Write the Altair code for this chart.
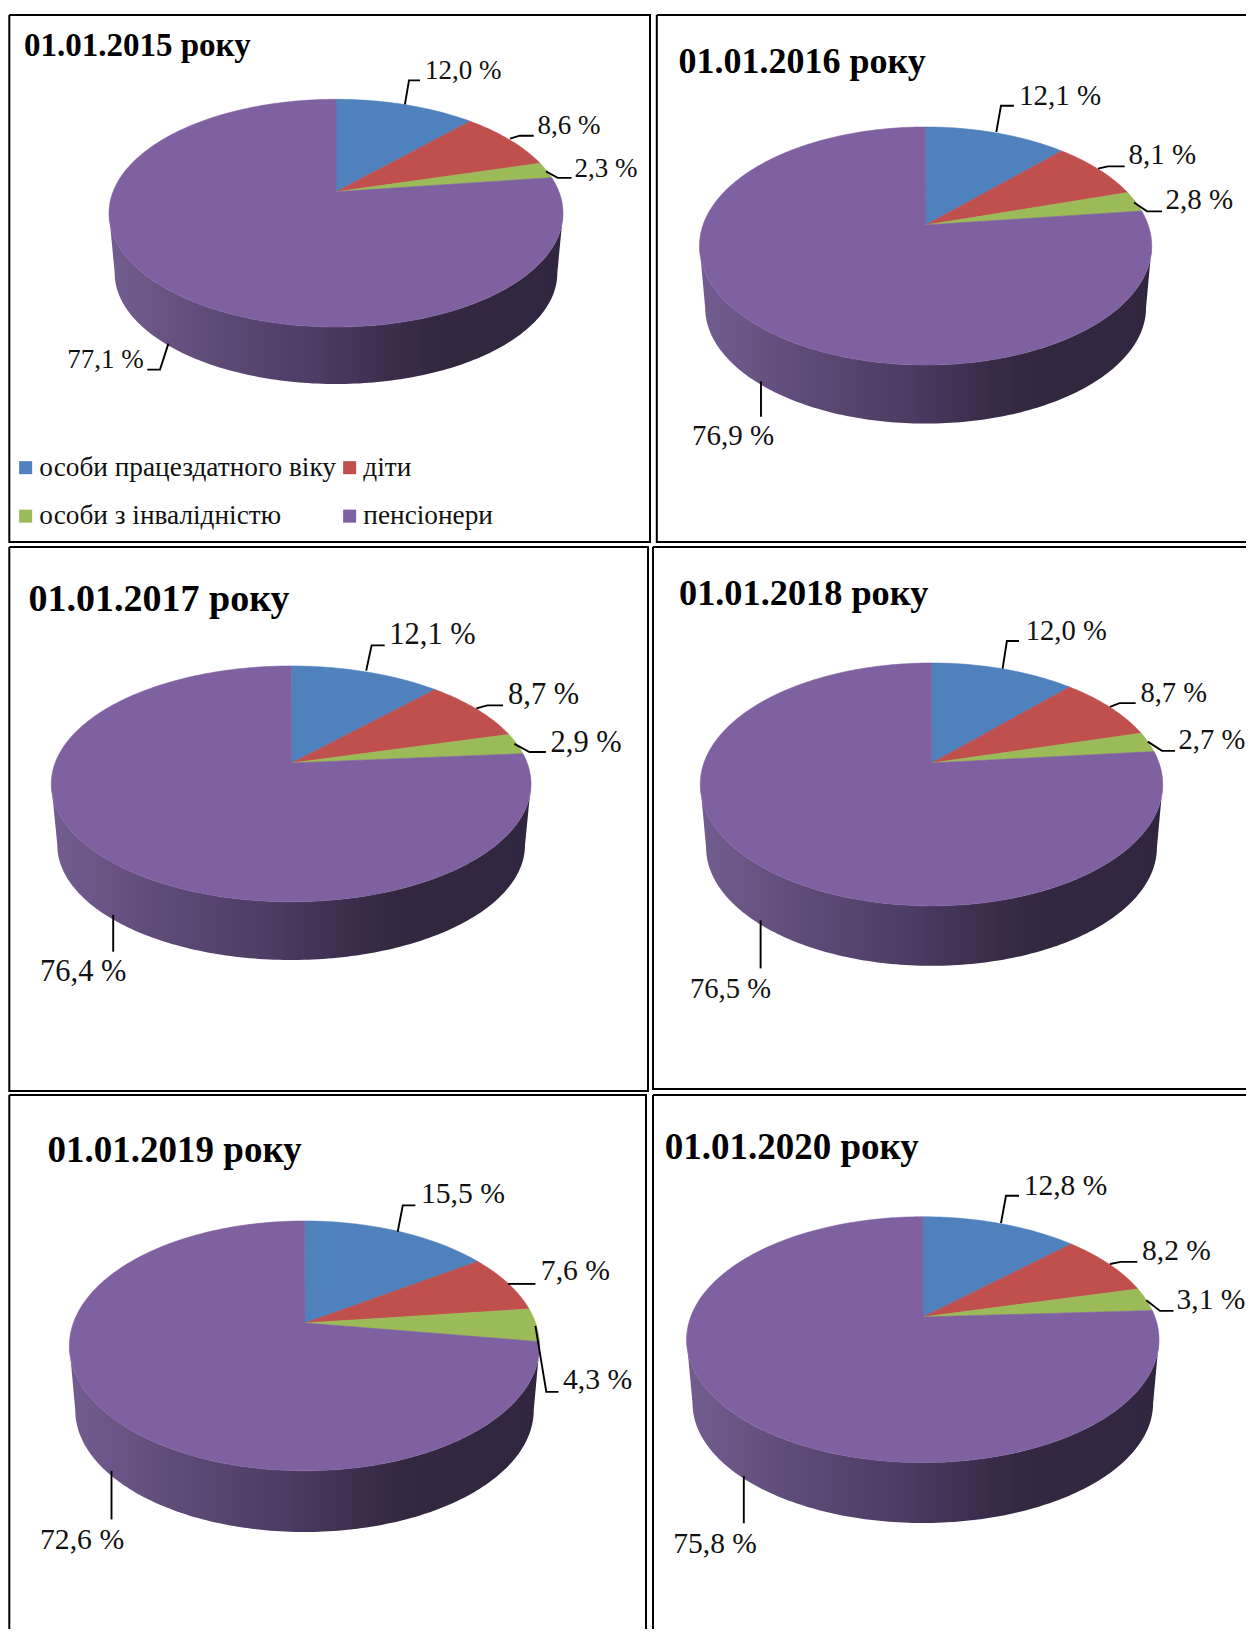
import math
import altair as alt
import pandas as pd

CATEGORIES = ["особи працездатного віку", "діти", "особи з інвалідністю", "пенсіонери"]
COLORS = ["#4f81bd", "#c0504d", "#9bbb59", "#7f60a0"]
TITLES = ["01.01.2015 року", "01.01.2016 року", "01.01.2017 року",
          "01.01.2018 року", "01.01.2019 року", "01.01.2020 року"]
SHARES = [
    [12.0, 8.6, 2.3, 77.1],
    [12.1, 8.1, 2.8, 76.9],
    [12.1, 8.7, 2.9, 76.4],
    [12.0, 8.7, 2.7, 76.5],
    [15.5, 7.6, 4.3, 72.6],
    [12.8, 8.2, 3.1, 75.8],
]

# page-pixel layout of the six cells
COL_X = [(8, 652), (652, 1246)]
ROW_Y = [(8, 544), (544, 1093), (1093, 1629)]

PANELS = [
    dict(frame=(9.3, 650, 15, 542), apex=(336, 191.8), top=99.3, bottom=327, left=109, right=563, lower=384,
         title=(24, 56.4, 33), label_size=27,
         label_xy=[(425, 70.7), (537.5, 125.7), (574.5, 168.6), (67.3, 360)],
         leaders=[[(404.9, 104.3), (409, 80.4), (420, 80.4)], [(510, 138.6), (519.8, 135.7), (533.7, 135.7)],
                  [(546, 171.4), (557.7, 177.9), (571.6, 177.9)], [(168.4, 343.6), (160, 369.6), (147.3, 369.6)]]),
    dict(frame=(656.8, 1300, 15, 542), apex=(925.8, 225), top=127, bottom=365, left=699.5, right=1151.7, lower=423.6,
         title=(678.4, 72.5, 36), label_size=29,
         label_xy=[(1019, 95.7), (1128.6, 155.4), (1165.4, 200), (692, 436.4)],
         leaders=[[(996.3, 132), (1001, 105.7), (1013.9, 105.7)], [(1098, 168.6), (1107.9, 166.4), (1124.7, 166.4)],
                  [(1134, 202.5), (1147, 211.4), (1162, 211.4)], [(761, 381.4), (761, 416.8)]]),
    dict(frame=(9.3, 648, 547, 1091), apex=(291.7, 763), top=666, bottom=901.8, left=51.3, right=531, lower=960,
         title=(28.6, 611.4, 38), label_size=30.5,
         label_xy=[(389.3, 635.4), (508, 694.6), (550.5, 742.7), (40, 972)],
         leaders=[[(366.2, 670.6), (371.6, 645.4), (384.7, 645.4)], [(476.4, 708.3), (487.4, 705.4), (503, 705.4)],
                  [(514.3, 743.8), (529.5, 752), (545.9, 752)], [(113.2, 914.8), (113.2, 951.7)]]),
    dict(frame=(653, 1300, 547, 1089), apex=(931.7, 763), top=663, bottom=905.9, left=700.3, right=1162.7, lower=965.8,
         title=(679, 605.1, 36.3), label_size=28.6,
         label_xy=[(1025.7, 630.6), (1140.4, 692.8), (1178.5, 740), (690, 988.7)],
         leaders=[[(1002.6, 668.7), (1006.9, 641), (1019, 641)], [(1109.9, 706.8), (1119.6, 703.1), (1135.7, 703.1)],
                  [(1147.8, 741.6), (1162, 750.9), (1175, 750.9)], [(760.6, 920.3), (760.6, 968.4)]]),
    dict(frame=(9.3, 646, 1095, 1700), apex=(305, 1323), top=1221, bottom=1470.8, left=69.4, right=539.6, lower=1532,
         title=(47.6, 1162.4, 37), label_size=29.7,
         label_xy=[(420.9, 1193.7), (540.8, 1271), (563, 1380), (40, 1540)],
         leaders=[[(397.7, 1231.7), (402.8, 1205.4), (415.4, 1205.4)], [(508, 1283.9), (535.4, 1283.9)],
                  [(535.4, 1325.8), (546.3, 1391.9), (558.5, 1391.9)], [(111.5, 1470.8), (111.5, 1519.4)]]),
    dict(frame=(653, 1300, 1095, 1700), apex=(923, 1317), top=1216.8, bottom=1462.6, left=686.6, right=1159, lower=1523,
         title=(664.7, 1158.9, 37), label_size=29.5,
         label_xy=[(1023.7, 1185.9), (1142, 1251), (1176.5, 1299.5), (673.3, 1543.6)],
         leaders=[[(1001, 1223.2), (1006, 1195.8), (1019, 1195.8)], [(1109.9, 1264), (1120.8, 1261.9), (1137.3, 1261.9)],
                  [(1146.3, 1300.2), (1160, 1310.9), (1173.5, 1310.9)], [(743.8, 1476), (743.8, 1523.3)]]),
]

FONT = "Liberation Serif"
SIDE_STOPS = [(0.0, "#735d90"), (0.22, "#5f4b78"), (0.45, "#4d3c64"), (0.62, "#3c2d4c"), (0.72, "#33283f"), (1.0, "#30263f")]
LOWER_SCALE = 0.975
STEP_DEG = 1.0


def projector(p, shrink=1.0):
    """Perspective view of a disc: the disc centre does not sit at the ellipse centre."""
    ax, ay = p["apex"]
    t, b = ay - p["top"], p["bottom"] - ay
    k = (b - t) / (b + t)
    big_b = t * (1 + k)
    big_a = (p["right"] - p["left"]) / 2 * math.sqrt(1 - k * k)
    cx = (p["right"] + p["left"]) / 2
    oy = ay if shrink == 1.0 else p["lower"] - b * shrink

    def pt(theta):
        d = 1 + k * math.cos(theta)
        return (cx + shrink * big_a * math.sin(theta) / d, oy - shrink * big_b * math.cos(theta) / d)

    return pt, k


def sweep(a0, a1):
    n = max(2, int(abs(a1 - a0) / math.radians(STEP_DEG)))
    return [a0 + (a1 - a0) * i / n for i in range(n + 1)]


def panel_chart(p, shares, title, row, col):
    x0, x1 = COL_X[col]
    y0, y1 = ROW_Y[row]
    X = alt.X("x:Q", scale=alt.Scale(domain=[x0, x1], nice=False, zero=False), axis=None)
    Y = alt.Y("y:Q", scale=alt.Scale(domain=[y1, y0], nice=False, zero=False), axis=None)
    pt, k = projector(p)
    low, _ = projector(p, LOWER_SCALE)
    color_scale = alt.Scale(domain=CATEGORIES, range=COLORS)

    # frame
    L, R, T, B = p["frame"]
    frame_pts = [(L, T), (R, T), (R, B), (L, B), (L, T)]
    frame = alt.Chart(pd.DataFrame([dict(x=a, y=b, i=i) for i, (a, b) in enumerate(frame_pts)])).mark_line(
        color="#000000", strokeWidth=2, clip=True
    ).encode(x=X, y=Y, order="i:Q")

    # side wall
    th_r = math.acos(-k)
    front = sweep(th_r, 2 * math.pi - th_r)
    wall_pts = [pt(a) for a in front] + [low(a) for a in reversed(front)]
    wall = alt.Chart(pd.DataFrame([dict(x=a, y=b, i=i) for i, (a, b) in enumerate(wall_pts)])).mark_line(
        fill=alt.Gradient(
            gradient="linear", x1=0, x2=1, y1=0, y2=0,
            stops=[alt.GradientStop(offset=o, color=c) for o, c in SIDE_STOPS],
        ),
        strokeWidth=0,
    ).encode(x=X, y=Y, order="i:Q")

    # slices
    rows = []
    acc = 0.0
    total = sum(shares)
    for cat, v in zip(CATEGORIES, shares):
        a0, a1 = acc / total * 2 * math.pi, (acc + v) / total * 2 * math.pi
        acc += v
        outline = [p["apex"]] + [pt(a) for a in sweep(a0, a1)] + [p["apex"]]
        rows += [dict(x=a, y=b, i=i, cat=cat) for i, (a, b) in enumerate(outline)]

    legend = None
    if row == 0 and col == 0:
        legend = alt.Legend(
            orient="none", legendX=4, legendY=446, columns=2, direction="horizontal", title=None,
            symbolType="square", symbolSize=170, symbolStrokeWidth=0, labelFont=FONT, labelFontSize=27.3,
            labelColor="#111111", labelOffset=0, rowPadding=20.5, columnPadding=-1, labelLimit=400,
        )
    slices = alt.Chart(pd.DataFrame(rows)).mark_line(strokeWidth=0.6).encode(
        x=X, y=Y, order="i:Q",
        fill=alt.Fill("cat:N", scale=color_scale, legend=legend),
        stroke=alt.Stroke("cat:N", scale=color_scale, legend=None),
    )

    # leader lines
    lead_rows = []
    for n, seg in enumerate(p["leaders"]):
        lead_rows += [dict(x=a, y=b, i=i, n=n) for i, (a, b) in enumerate(seg)]
    leaders = alt.Chart(pd.DataFrame(lead_rows)).mark_line(color="#000000", strokeWidth=1.9).encode(
        x=X, y=Y, order="i:Q", detail="n:N"
    )

    # value labels
    texts = [f"{v:.1f}".replace(".", ",") + " %" for v in shares]
    lab_df = pd.DataFrame([dict(x=a, y=b, t=s) for (a, b), s in zip(p["label_xy"], texts)])
    labels = alt.Chart(lab_df).mark_text(
        font=FONT, fontSize=p["label_size"], align="left", baseline="middle", color="#111111"
    ).encode(x=X, y=Y, text="t:N")

    # title
    tx, ty, ts = p["title"]
    ttl = alt.Chart(pd.DataFrame([dict(x=tx, y=ty, t=title)])).mark_text(
        font=FONT, fontSize=ts, fontWeight="bold", align="left", baseline="alphabetic", color="#000000"
    ).encode(x=X, y=Y, text="t:N")

    layers = [frame, wall, slices, leaders, labels, ttl]
    return alt.layer(*layers).properties(width=x1 - x0, height=y1 - y0)


rows_charts = []
for r in range(3):
    cells = [panel_chart(PANELS[2 * r + c], SHARES[2 * r + c], TITLES[2 * r + c], r, c) for c in range(2)]
    rows_charts.append(alt.hconcat(*cells, spacing=0))

chart = (
    alt.vconcat(*rows_charts, spacing=0)
    .properties(padding=0, background="#ffffff")
    .configure_view(stroke=None)
    .configure_concat(spacing=0)
)
chart.save("out.html", embed_options={"renderer": "svg", "actions": False})
